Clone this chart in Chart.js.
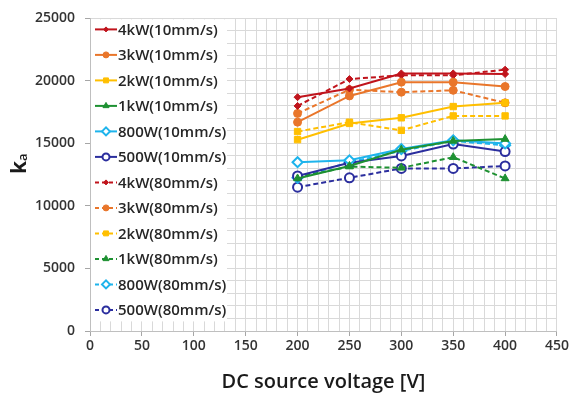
<!DOCTYPE html>
<html>
<head>
<meta charset="utf-8">
<script src="https://cdn.jsdelivr.net/npm/chart.js@4.4.1/dist/chart.umd.min.js"></script>
<style>
  html, body { margin: 0; padding: 0; background: #fff; }
  #wrap { width: 571px; height: 394px; }
</style>
</head>
<body>
<div id="wrap"><canvas id="chart" width="571" height="394"></canvas></div>
<script>
// DC source voltage [V]
const voltages = [200, 250, 300, 350, 400];

const seriesLabels = ['4kW(10mm/s)', '3kW(10mm/s)', '2kW(10mm/s)', '1kW(10mm/s)', '800W(10mm/s)', '500W(10mm/s)',
                      '4kW(80mm/s)', '3kW(80mm/s)', '2kW(80mm/s)', '1kW(80mm/s)', '800W(80mm/s)', '500W(80mm/s)'];

// k_a values, 10 mm/s (solid lines)
const kw4_10  = [18700, 19400, 20600, 20600, 20550];
const kw3_10  = [16700, 18800, 19900, 19900, 19550];
const kw2_10  = [15300, 16600, 17050, 17950, 18250];
const kw1_10  = [12200, 13200, 14500, 15200, 15350];
const w800_10 = [13500, 13650, 14550, 15250, 15000];
const w500_10 = [12400, 13450, 14000, 14950, 14350];

// k_a values, 80 mm/s (dashed lines)
const kw4_80  = [18000, 20150, 20450, 20450, 20900];
const kw3_80  = [17400, 19300, 19100, 19250, 18250];
const kw2_80  = [15950, 16700, 16050, 17200, 17200];
const kw1_80  = [12300, 13150, 13050, 13900, 12200];
const w800_80 = [12250, 13500, 14400, 15200, 14850];
const w500_80 = [11500, 12250, 13000, 13000, 13200];

const xTicks = [0, 50, 100, 150, 200, 250, 300, 350, 400, 450];
const yTicks = [0, 5000, 10000, 15000, 20000, 25000];

const styles = [
    { color: '#C0141C', point: 'rectRot', radius: 3.5, open: false },
    { color: '#E9762B', point: 'circle', radius: 4, open: false },
    { color: '#FFBF00', point: 'rect', radius: 4.5, open: false },
    { color: '#1E9132', point: 'triangle', radius: 4.5, open: false },
    { color: '#1EB4EC', point: 'rectRot', radius: 5, open: true },
    { color: '#2B2E9E', point: 'circle', radius: 4.5, open: true }
];

const allValues = [kw4_10, kw3_10, kw2_10, kw1_10, w800_10, w500_10,
                   kw4_80, kw3_80, kw2_80, kw1_80, w800_80, w500_80];

const datasets = allValues.map(function(vals, i) {
    const s = styles[i % 6];
    const dashed = i >= 6;
    return {
        label: seriesLabels[i],
        data: vals.map((v, j) => ({ x: voltages[j], y: v })),
        borderColor: s.color,
        backgroundColor: s.open ? '#ffffff' : s.color,
        pointBorderColor: s.color,
        pointBackgroundColor: s.open ? '#ffffff' : s.color,
        pointStyle: s.point,
        pointRadius: s.radius,
        pointBorderWidth: s.open ? 2 : 1,
        borderWidth: 2,
        borderDash: dashed ? [5, 3] : [],
        tension: 0,
        _dashed: dashed
    };
});

const tickFont = { family: '"Open Sans", sans-serif', size: 14, weight: '600' };

// legend drawn inside the plot area, white box
const innerLegend = {
    id: 'innerLegend',
    afterDraw(chart) {
        const ctx = chart.ctx;
        const area = chart.chartArea;
        ctx.save();
        ctx.fillStyle = '#ffffff';
        ctx.fillRect(area.left + 1, area.top + 1, 136, 302);
        ctx.font = '600 15px "Open Sans", sans-serif';
        ctx.textBaseline = 'middle';
        ctx.textAlign = 'left';
        chart.data.datasets.forEach(function(ds, i) {
            const y = area.top + 11 + i * 25.5;
            const x0 = area.left + 5;
            ctx.strokeStyle = ds.borderColor;
            ctx.lineWidth = 2;
            ctx.setLineDash(ds._dashed ? [4, 3] : []);
            ctx.beginPath();
            ctx.moveTo(x0, y);
            ctx.lineTo(x0 + 22, y);
            ctx.stroke();
            ctx.setLineDash([]);
            ctx.fillStyle = ds.pointBackgroundColor;
            ctx.strokeStyle = ds.pointBorderColor;
            ctx.lineWidth = ds.pointBorderWidth;
            Chart.helpers.drawPoint(ctx, {
                pointStyle: ds.pointStyle,
                radius: ds.pointRadius - 1,
                borderWidth: ds.pointBorderWidth,
                rotation: 0
            }, x0 + 11, y);
            ctx.fillStyle = '#262626';
            ctx.fillText(ds.label, x0 + 23, y + 1);
        });
        ctx.restore();
    }
};

// y axis title with subscript
const yTitle = {
    id: 'yTitle',
    afterDraw(chart) {
        const ctx = chart.ctx;
        ctx.save();
        ctx.translate(26, 174);
        ctx.rotate(-Math.PI / 2);
        ctx.fillStyle = '#1a1a1a';
        ctx.textBaseline = 'alphabetic';
        ctx.textAlign = 'left';
        ctx.font = 'bold 21px "Open Sans", sans-serif';
        ctx.fillText('k', 0, 0);
        const w = ctx.measureText('k').width;
        ctx.font = '600 13px "Open Sans", sans-serif';
        ctx.fillText('a', w, 1);
        ctx.restore();
    }
};

new Chart(document.getElementById('chart'), {
    type: 'line',
    data: { datasets: datasets },
    options: {
        responsive: false,
        animation: false,
        layout: { padding: { top: 16, right: 14, left: 0, bottom: 0 } },
        plugins: {
            legend: { display: false },
            tooltip: { enabled: false }
        },
        scales: {
            x: {
                type: 'linear',
                min: 0,
                max: 450,
                afterBuildTicks(scale) {
                    const t = [];
                    for (let v = 0; v <= 450; v += 10) t.push({ value: v });
                    scale.ticks = t;
                },
                afterFit(scale) { scale.height = 63; },
                grid: {
                    color: '#d9d9d9',
                    lineWidth: 1,
                    tickLength: 5,
                    tickColor: ctx => (ctx.tick && ctx.tick.value % 50 === 0) ? '#a6a6a6' : 'rgba(0,0,0,0)'
                },
                border: { color: '#bfbfbf' },
                ticks: {
                    autoSkip: false,
                    maxRotation: 0,
                    padding: 2,
                    color: '#333333',
                    font: tickFont,
                    callback: v => xTicks.includes(v) ? String(v) : ''
                },
                title: {
                    display: true,
                    text: 'DC source voltage [V]',
                    color: '#1a1a1a',
                    font: { family: '"Open Sans", sans-serif', size: 20, weight: '600' },
                    padding: { top: 4, bottom: 0 }
                }
            },
            y: {
                min: 0,
                max: 25000,
                afterBuildTicks(scale) {
                    const t = [];
                    for (let v = 0; v <= 25000; v += 1000) t.push({ value: v });
                    scale.ticks = t;
                },
                afterFit(scale) { scale.width = 90; },
                grid: {
                    color: '#d9d9d9',
                    lineWidth: 1,
                    tickLength: 5,
                    tickColor: ctx => (ctx.tick && ctx.tick.value % 5000 === 0) ? '#a6a6a6' : 'rgba(0,0,0,0)'
                },
                border: { color: '#bfbfbf' },
                ticks: {
                    autoSkip: false,
                    padding: 10,
                    color: '#333333',
                    font: tickFont,
                    callback: v => yTicks.includes(v) ? String(v) : ''
                }
            }
        }
    },
    plugins: [innerLegend, yTitle]
});
</script>
</body>
</html>
